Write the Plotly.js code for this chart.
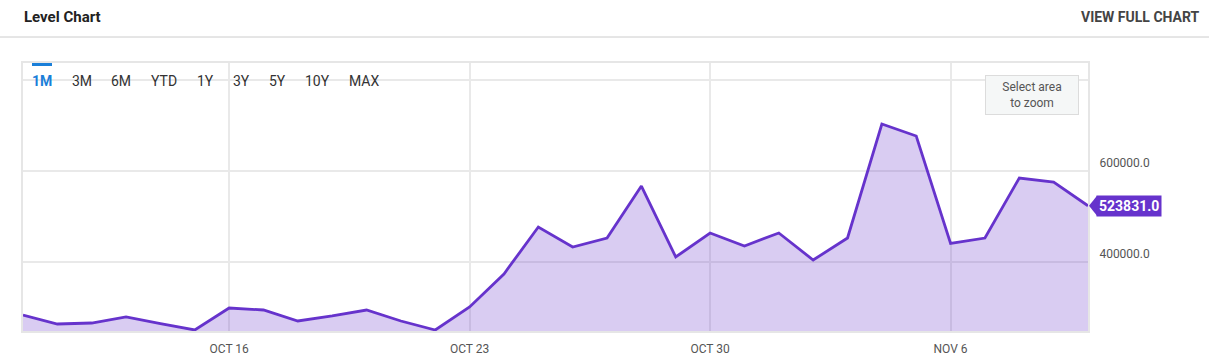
<!DOCTYPE html>
<html>
<head>
<meta charset="utf-8">
<script src="https://cdn.plot.ly/plotly-3.0.1.min.js"></script>
<style>
html,body{margin:0;padding:0;background:#fff;}
#chart{width:1209px;height:362px;}
</style>
</head>
<body>
<div id="chart"></div>
<script>
// ---- data ----
const dates = [
  '2023-10-10','2023-10-11','2023-10-12','2023-10-13','2023-10-14','2023-10-15',
  '2023-10-16','2023-10-17','2023-10-18','2023-10-19','2023-10-20','2023-10-21',
  '2023-10-22','2023-10-23','2023-10-24','2023-10-25','2023-10-26','2023-10-27',
  '2023-10-28','2023-10-29','2023-10-30','2023-10-31','2023-11-01','2023-11-02',
  '2023-11-03','2023-11-04','2023-11-05','2023-11-06','2023-11-07','2023-11-08',
  '2023-11-09','2023-11-10'
];
const levels = [
  284500, 264800, 267000, 280200, 265900, 251700,
  299900, 295500, 271400, 282400, 295500, 271400,
  251700, 302100, 374400, 477300, 433500, 453200,
  567100, 411600, 464200, 435700, 464200, 405000,
  453200, 703000, 676700, 441200, 453200, 584700,
  575900, 523831
];
const xTickVals = ['2023-10-16','2023-10-23','2023-10-30','2023-11-06'];
const xTickText = ['OCT 16','OCT 23','OCT 30','NOV 6'];
const yTickVals = [400000, 600000, 800000];
const yTickText = ['400000.0', '600000.0', ''];
const rangeButtons = ['1M','3M','6M','YTD','1Y','3Y','5Y','10Y','MAX'];
const chartTitle = 'Level Chart';
const linkText = 'VIEW FULL CHART';
const zoomHint = 'Select area<br>to zoom';

// ---- layout constants ----
const W = 1209, H = 362;
const L = 23, R = 1088, T = 63, B = 331;
const pw = R - L, ph = B - T;
const px = x => (x - L) / pw;
const py = y => (B - y) / ph;

const lineColor = '#6633cc';
const lastVal = levels[levels.length - 1];

const trace = {
  x: dates,
  y: levels,
  type: 'scatter',
  mode: 'lines',
  line: {color: lineColor, width: 2.8, shape: 'linear'},
  fill: 'tozeroy',
  fillcolor: 'rgba(102,51,204,0.25)',
  hoverinfo: 'skip'
};

const buttonCenters = [42, 82, 121, 164, 205, 241, 277, 317, 364];
const annotations = [];
rangeButtons.forEach((b, i) => {
  annotations.push({
    xref: 'paper', yref: 'paper',
    x: px(buttonCenters[i]), y: py(81),
    xanchor: 'center', yanchor: 'middle',
    text: i === 0 ? '<b>' + b + '</b>' : b,
    showarrow: false,
    font: {family: 'Roboto', size: 14, color: i === 0 ? '#1a7fd9' : '#333333'}
  });
});
annotations.push({
  xref: 'paper', yref: 'paper', x: px(22), y: py(17),
  xanchor: 'left', yanchor: 'middle',
  text: '<b>' + chartTitle + '</b>', showarrow: false,
  font: {family: 'Roboto', size: 15, color: '#222222'}
});
annotations.push({
  xref: 'paper', yref: 'paper', x: px(1202), y: py(17),
  xanchor: 'right', yanchor: 'middle',
  text: '<b>' + linkText + '</b>', showarrow: false,
  font: {family: 'Roboto', size: 14, color: '#444444'}
});
annotations.push({
  xref: 'paper', yref: 'paper', x: px(1031.5), y: py(94.5),
  xanchor: 'center', yanchor: 'middle',
  text: zoomHint, showarrow: false,
  width: 88, height: 34, borderpad: 2,
  bgcolor: '#f5f7f7', bordercolor: '#dcdcdc', borderwidth: 1,
  font: {family: 'Roboto', size: 12, color: '#555555'}
});
annotations.push({
  xref: 'paper', yref: 'y', x: 1, y: lastVal,
  xanchor: 'left', yanchor: 'middle', xshift: 8,
  text: '<b>' + lastVal.toFixed(1) + '</b>', showarrow: false,
  bgcolor: lineColor, borderpad: 2,
  font: {family: 'Roboto', size: 14, color: '#ffffff'}
});

const shapes = [
  { // header separator
    type: 'line', xref: 'paper', yref: 'paper',
    x0: px(0), x1: px(W), y0: py(37), y1: py(37),
    line: {color: '#cccccc', width: 1}
  },
  { // active range underline
    type: 'rect', xref: 'paper', yref: 'paper',
    x0: px(32), x1: px(52), y0: py(66), y1: py(63),
    fillcolor: '#1a7fd9', line: {width: 0}
  },
  { // value flag pointer
    type: 'path', xref: 'paper', yref: 'y',
    xsizemode: 'pixel', ysizemode: 'pixel',
    xanchor: 1, yanchor: lastVal,
    path: 'M 1 0 L 9 10 L 9 -10 Z',
    fillcolor: lineColor, line: {width: 0}
  }
];

const layout = {
  width: W, height: H,
  margin: {l: L, r: W - R, t: T, b: H - B, pad: 0},
  paper_bgcolor: '#ffffff',
  plot_bgcolor: '#ffffff',
  showlegend: false,
  hovermode: false,
  xaxis: {
    type: 'date',
    range: [dates[0], dates[dates.length - 1]],
    tickmode: 'array', tickvals: xTickVals, ticktext: xTickText,
    showgrid: true, gridcolor: '#e9e9e9', gridwidth: 2,
    zeroline: false,
    showline: true, linecolor: '#e6e6e6', linewidth: 2, mirror: true,
    ticks: '', ticklabelstandoff: 6,
    tickfont: {family: 'Roboto', size: 12, color: '#555555'},
    automargin: false, fixedrange: true
  },
  yaxis: {
    side: 'right',
    range: [249500, 836600],
    tickmode: 'array', tickvals: yTickVals, ticktext: yTickText,
    showgrid: true, gridcolor: '#e9e9e9', gridwidth: 2,
    zeroline: false,
    showline: true, linecolor: '#e6e6e6', linewidth: 2, mirror: true,
    ticks: '', ticklabelposition: 'outside top', ticklabelstandoff: 7,
    tickfont: {family: 'Roboto', size: 12, color: '#555555'},
    automargin: false, fixedrange: true
  },
  annotations: annotations,
  shapes: shapes
};

Plotly.newPlot('chart', [trace], layout, {displayModeBar: false, staticPlot: true});
</script>
</body>
</html>
